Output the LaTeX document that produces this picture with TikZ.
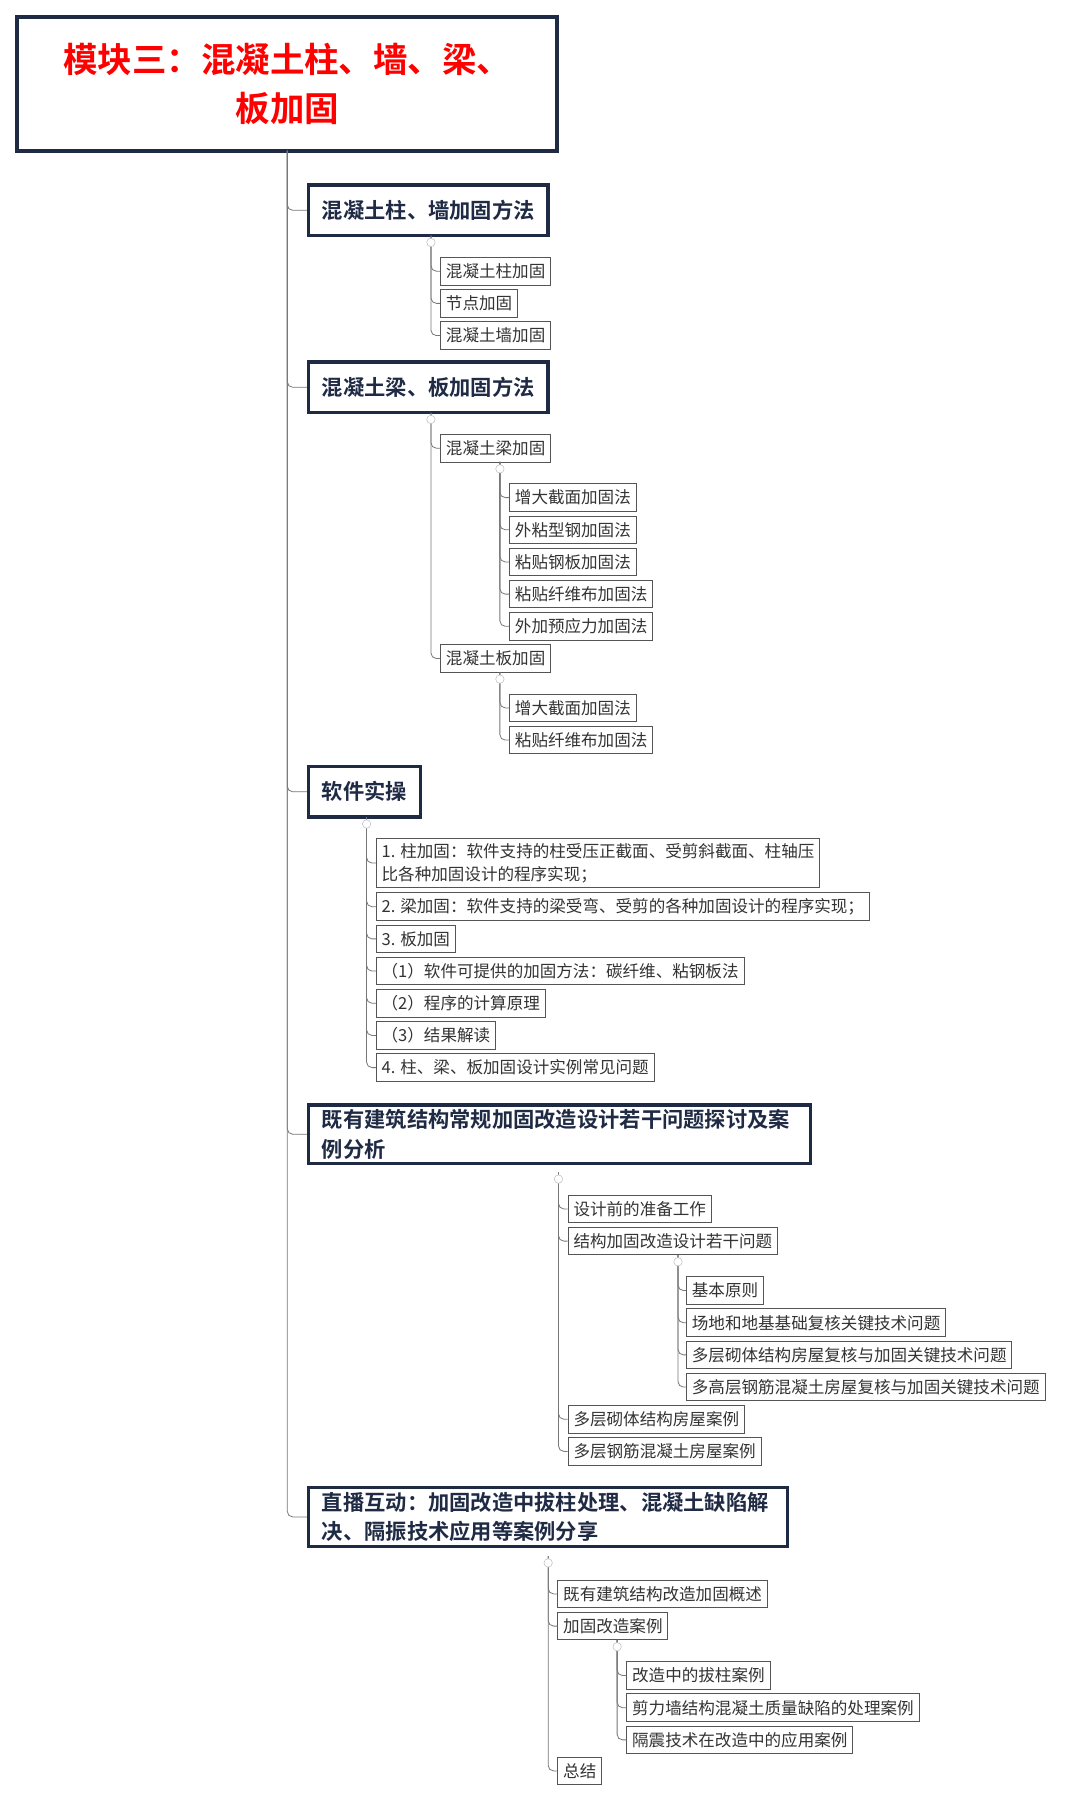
\documentclass[tikz,border=0pt]{standalone}
\usepackage{fontspec}
\newfontfamily\cjk{Noto Sans CJK SC}[BoldFont={Noto Sans CJK SC Bold}]
\definecolor{navy}{HTML}{1F2A44}
\definecolor{leafc}{HTML}{555555}
\definecolor{txt}{HTML}{333333}
\definecolor{linkc}{HTML}{777777}
\tikzset{
  leaf/.style={draw=leafc, line width=0.7pt, fill=white, anchor=west, inner xsep=4pt,
    minimum height=0.72cm, align=left, text=txt, font=\cjk\fontsize{12.3}{17}\selectfont},
  hdr/.style={draw=navy, line width=2.5pt, fill=white, anchor=west, inner xsep=10pt,
    minimum height=1.32cm, align=left, text=navy, font=\cjk\bfseries\fontsize{15.8}{22}\selectfont},
  link/.style={draw=linkc, line width=0.6pt, rounded corners=4pt},
  mk/.style={circle, draw=gray!50, fill=white, inner sep=0pt, minimum size=0.22cm}
}
\begin{document}
\begin{tikzpicture}[x=0.03cm, y=-0.03cm]
    \useasboundingbox (0,0) rectangle (940,1582);

    % Titel
    \node (title) [draw=navy, line width=3pt, fill=white, minimum width=14.1cm, minimum height=3.48cm,
      text width=12.6cm, align=center, text=red, font=\cjk\bfseries\fontsize{25.6}{37}\selectfont]
      at (250,73) {模块三：混凝土柱、墙、梁、\\板加固};

    % Hauptäste
    \node (h1) [hdr] at (267,183) {混凝土柱、墙加固方法};
    \node (h2) [hdr] at (267,337) {混凝土梁、板加固方法};
    \node (h3) [hdr] at (267,689) {软件实操};
    \node (h4) [hdr, text width=12.4cm] at (267,987) {既有建筑结构常规加固改造设计若干问题探讨及案\\例分析};
    \node (h5) [hdr, text width=11.8cm] at (267,1320) {直播互动：加固改造中拔柱处理、混凝土缺陷解\\决、隔振技术应用等案例分享};

    % Ast 1
    \node (a1) [leaf] at (383,236) {混凝土柱加固};
    \node (a2) [leaf] at (383,264) {节点加固};
    \node (a3) [leaf] at (383,292) {混凝土墙加固};

    % Ast 2
    \node (b1) [leaf] at (383,390) {混凝土梁加固};
    \node (b11) [leaf] at (443,433) {增大截面加固法};
    \node (b12) [leaf] at (443,461) {外粘型钢加固法};
    \node (b13) [leaf] at (443,489) {粘贴钢板加固法};
    \node (b14) [leaf] at (443,517) {粘贴纤维布加固法};
    \node (b15) [leaf] at (443,545) {外加预应力加固法};
    \node (b2) [leaf] at (383,573) {混凝土板加固};
    \node (b21) [leaf] at (443,616) {增大截面加固法};
    \node (b22) [leaf] at (443,644) {粘贴纤维布加固法};

    % Ast 3
    \node (c1) [leaf] at (327,751) {1. 柱加固：软件支持的柱受压正截面、受剪斜截面、柱轴压\\比各种加固设计的程序实现；};
    \node (c2) [leaf] at (327,789) {2. 梁加固：软件支持的梁受弯、受剪的各种加固设计的程序实现；};
    \node (c3) [leaf] at (327,817) {3. 板加固};
    \node (c4) [leaf] at (327,845) {（1）软件可提供的加固方法：碳纤维、粘钢板法};
    \node (c5) [leaf] at (327,873) {（2）程序的计算原理};
    \node (c6) [leaf] at (327,901) {（3）结果解读};
    \node (c7) [leaf] at (327,929) {4. 柱、梁、板加固设计实例常见问题};

    % Ast 4
    \node (d1) [leaf] at (494,1052) {设计前的准备工作};
    \node (d2) [leaf] at (494,1080) {结构加固改造设计若干问题};
    \node (d21) [leaf] at (597,1123) {基本原则};
    \node (d22) [leaf] at (597,1151) {场地和地基基础复核关键技术问题};
    \node (d23) [leaf] at (597,1179) {多层砌体结构房屋复核与加固关键技术问题};
    \node (d24) [leaf] at (597,1207) {多高层钢筋混凝土房屋复核与加固关键技术问题};
    \node (d3) [leaf] at (494,1235) {多层砌体结构房屋案例};
    \node (d4) [leaf] at (494,1263) {多层钢筋混凝土房屋案例};

    % Ast 5
    \node (e1) [leaf] at (485,1387) {既有建筑结构改造加固概述};
    \node (e2) [leaf] at (485,1415) {加固改造案例};
    \node (e21) [leaf] at (545,1458) {改造中的拔柱案例};
    \node (e22) [leaf] at (545,1486) {剪力墙结构混凝土质量缺陷的处理案例};
    \node (e23) [leaf] at (545,1514) {隔震技术在改造中的应用案例};
    \node (e3) [leaf] at (485,1541) {总结};

    % Verbindungen
    \coordinate (t0) at (250,131);
    \coordinate (t1) at (375,205);
    \coordinate (t2) at (375,359);
    \coordinate (t21) at (435,402);
    \coordinate (t22) at (435,585);
    \coordinate (t3) at (319,711);
    \coordinate (t4) at (486,1020);
    \coordinate (t41) at (590,1092);
    \coordinate (t5) at (477,1354);
    \coordinate (t51) at (537,1427);
    \foreach \n in {h1,h2,h3,h4,h5} \draw[link] (t0) |- (\n.west);
    \foreach \n in {a1,a2,a3} \draw[link] (t1) |- (\n.west);
    \foreach \n in {b1,b2} \draw[link] (t2) |- (\n.west);
    \foreach \n in {b11,b12,b13,b14,b15} \draw[link] (t21) |- (\n.west);
    \foreach \n in {b21,b22} \draw[link] (t22) |- (\n.west);
    \foreach \n in {c1,c2,c3,c4,c5,c6,c7} \draw[link] (t3) |- (\n.west);
    \foreach \n in {d1,d2,d3,d4} \draw[link] (t4) |- (\n.west);
    \foreach \n in {d21,d22,d23,d24} \draw[link] (t41) |- (\n.west);
    \foreach \n in {e1,e2,e3} \draw[link] (t5) |- (\n.west);
    \foreach \n in {e21,e22,e23} \draw[link] (t51) |- (\n.west);

    % Einklapp-Marken
    \foreach \t in {t1,t2,t21,t22,t3,t4,t41,t5,t51}
      \node (m\t) [mk, yshift=-0.18cm] at (\t) {};
\end{tikzpicture}
\end{document}
